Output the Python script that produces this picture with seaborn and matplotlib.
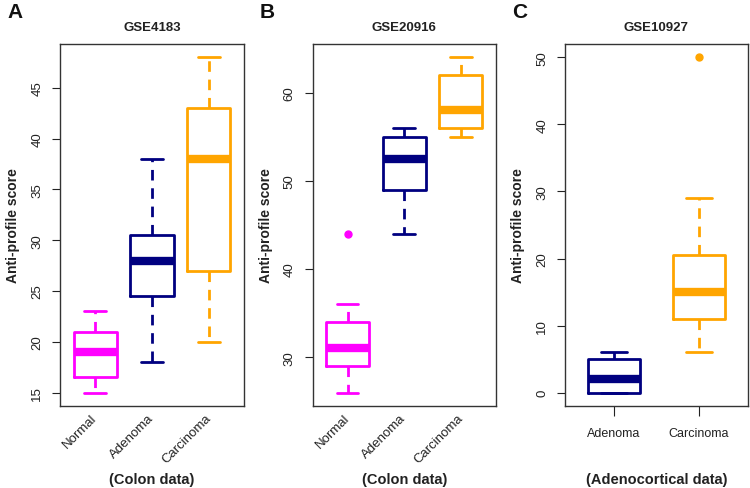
import matplotlib
matplotlib.use('Agg')
import matplotlib.pyplot as plt
import seaborn as sns
import pandas as pd

sns.set_style('ticks')
plt.rcParams['font.family'] = ['Liberation Sans', 'DejaVu Sans']

# group order and colours
colon_groups = ['Normal', 'Adenoma', 'Carcinoma']
adeno_groups = ['Adenoma', 'Carcinoma']
group_colors = {'Normal': '#FF00FF', 'Adenoma': '#000080', 'Carcinoma': '#FFA500'}

# scores (whisker ends, hinges, median, outliers)
gse4183_normal = [15, 16.5, 19, 21, 23]
gse4183_adenoma = [18, 24.5, 28, 30.5, 38]
gse4183_carcinoma = [20, 27, 38, 43, 48]

gse20916_normal = [26, 28, 29, 30, 31, 33, 34, 36, 44]
gse20916_adenoma = [44, 49, 52.5, 55, 56]
gse20916_carcinoma = [55, 56, 58, 62, 64]

gse10927_adenoma = [0, 0, 2, 5, 6]
gse10927_carcinoma = [6, 9, 11, 13, 15, 18, 20.5, 29, 50]


def long_df(groups, values):
    rows = []
    for g, vals in zip(groups, values):
        for v in vals:
            rows.append({'group': g, 'score': v})
    return pd.DataFrame(rows)


panels = [
    dict(letter='A', title='GSE4183', xlabel='(Colon data)', groups=colon_groups,
         df=long_df(colon_groups, [gse4183_normal, gse4183_adenoma, gse4183_carcinoma]),
         yticks=[15, 20, 25, 30, 35, 40, 45], box=(60, 45, 244, 407), width=0.76),
    dict(letter='B', title='GSE20916', xlabel='(Colon data)', groups=colon_groups,
         df=long_df(colon_groups, [gse20916_normal, gse20916_adenoma, gse20916_carcinoma]),
         yticks=[30, 40, 50, 60], box=(312.5, 45, 496, 407), width=0.76),
    dict(letter='C', title='GSE10927', xlabel='(Adenocortical data)', groups=adeno_groups,
         df=long_df(adeno_groups, [gse10927_adenoma, gse10927_carcinoma]),
         yticks=[0, 10, 20, 30, 40, 50], box=(565, 45, 748, 407), width=0.61),
]

W, H = 750, 489
fig = plt.figure(figsize=(7.5, 4.89), dpi=100)
txt = '#222222'

for p in panels:
    l, t, r, b = p['box']
    ax = fig.add_axes([l / W, 1 - b / H, (r - l) / W, (b - t) / H])
    sns.boxplot(data=p['df'], x='group', y='score', hue='group', order=p['groups'],
                hue_order=p['groups'], palette=group_colors, fill=False, dodge=False,
                width=p['width'], linewidth=2, legend=False, ax=ax,
                whiskerprops=dict(linestyle=(0, (3.8, 2.8))),
                medianprops=dict(linewidth=6, solid_capstyle='butt'),
                flierprops=dict(marker='o', markersize=5))
    for ln in ax.lines:
        if ln.get_marker() not in (None, 'None', ''):
            ln.set_markerfacecolor(ln.get_markeredgecolor())

    # R style range: data range plus 4 %
    lo = p['df']['score'].min()
    hi = p['df']['score'].max()
    pad = (hi - lo) * 0.04
    ax.set_ylim(lo - pad, hi + pad)
    n = len(p['groups'])
    xpad = n * 0.04
    ax.set_xlim(-0.5 - xpad, n - 0.5 + xpad)

    ax.set_yticks(p['yticks'])
    ax.set_yticklabels([str(v) for v in p['yticks']], rotation=90, va='center',
                       fontsize=9.5, color=txt)
    ax.tick_params(axis='y', length=6, width=0.8, pad=6, color=txt)
    ax.set_xticks(range(n))
    if n == 3:
        ax.set_xticklabels(p['groups'], rotation=45, ha='right', va='center',
                           rotation_mode='anchor', fontsize=9.5, color=txt)
        ax.tick_params(axis='x', length=0, pad=7)
    else:
        ax.set_xticklabels(p['groups'], fontsize=9, color=txt)
        ax.tick_params(axis='x', length=7, width=0.8, pad=8, color=txt)

    for s in ax.spines.values():
        s.set_visible(True)
        s.set_color('#333333')
        s.set_linewidth(1.0)

    ax.set_title(p['title'], fontsize=9.5, fontweight='bold', pad=10, color=txt)
    ax.set_ylabel('Anti-profile score', fontsize=10, fontweight='bold', color=txt,
                  labelpad=8)
    ax.set_xlabel('')
    cx = (l + r) / 2 / W
    fig.text(cx, 1 - 480 / H, p['xlabel'], ha='center', va='center', fontsize=10.5,
             fontweight='bold', color=txt)
    fig.text((l - 53) / W, 1 - 3 / H, p['letter'], ha='left', va='top', fontsize=15,
             fontweight='bold', color='#111111')

fig.savefig('out.png', dpi=100)
